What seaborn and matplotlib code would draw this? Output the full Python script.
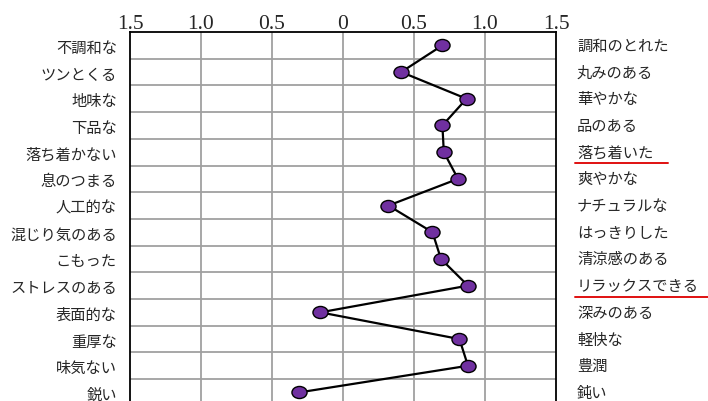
import numpy as np
import pandas as pd
import matplotlib
matplotlib.use("Agg")
import matplotlib.pyplot as plt
import seaborn as sns
from matplotlib.path import Path
from matplotlib.transforms import Affine2D

# semantic differential pairs (left = negative pole, right = positive pole)
left_words = ['不調和な', 'ツンとくる', '地味な', '下品な', '落ち着かない', '息のつまる', '人工的な',
              '混じり気のある', 'こもった', 'ストレスのある', '表面的な', '重厚な', '味気ない', '鋭い']
right_words = ['調和のとれた', '丸みのある', '華やかな', '品のある', '落ち着いた', '爽やかな', 'ナチュラルな',
               'はっきりした', '清涼感のある', 'リラックスできる', '深みのある', '軽快な', '豊潤', '鈍い']
scores = [0.70, 0.41, 0.87, 0.70, 0.71, 0.81, 0.32, 0.63, 0.69, 0.88, -0.16, 0.82, 0.88, -0.31]
tick_values = [-1.5, -1.0, -0.5, 0, 0.5, 1.0, 1.5]
tick_labels = ['1.5', '1.0', '0.5', '0', '0.5', '1.0', '1.5']
underlined = ['落ち着いた', 'リラックスできる']

df = pd.DataFrame({'score': scores, 'row': np.arange(len(scores)) + 0.5})

sns.set_style('white')
plt.rcParams['font.family'] = ['Noto Sans CJK JP', 'DejaVu Sans']

fig = plt.figure(figsize=(7.08, 4.02), dpi=100)
H = 402.0
ax = fig.add_axes([130 / 708, (H - 406.8) / H, 426 / 708, 373.8 / H])

sns.lineplot(data=df, x='score', y='row', sort=False, estimator=None, color='black',
             linewidth=1.6, ax=ax, zorder=3)

# slightly wide ellipse marker
ellipse = Path.unit_circle().transformed(Affine2D().scale(1.25, 1.0))
sns.scatterplot(data=df, x='score', y='row', marker=ellipse, s=118, color='#7030A0',
                edgecolor='black', linewidth=1.0, ax=ax, zorder=4)

ax.set_xlim(-1.5, 1.5)
ax.set_ylim(len(scores), 0)
ax.set_xlabel('')
ax.set_ylabel('')

ax.xaxis.tick_top()
ax.set_xticks(tick_values)
ax.set_xticklabels(tick_labels, fontsize=15.5, family='Liberation Serif')
ax.tick_params(axis='x', length=0, pad=-1)

ax.set_yticks(df['row'])
ax.set_yticklabels(left_words, fontsize=11)
ax.tick_params(axis='y', length=0, pad=9.5)

# grid lines on row boundaries and every 0.5
for k in range(1, len(scores)):
    ax.axhline(k, color='#a0a0a0', linewidth=1.3, zorder=1)
for v in tick_values[1:-1]:
    ax.axvline(v, color='#a0a0a0', linewidth=1.3, zorder=1)

for s in ax.spines.values():
    s.set_color('black')
    s.set_linewidth(1.3)

tr = ax.get_yaxis_transform()
x_right = 1 + 21 / 426
for r, w in zip(df['row'], right_words):
    ax.text(x_right, r, w, fontsize=11, ha='left', va='center', transform=tr, clip_on=False)
    if w in underlined:
        n = len(w)
        x_end = min(x_right + (n * 15.0 + 16) / 426, 1 + 152 / 426)
        ax.plot([x_right - 2 / 426, x_end], [r + 0.42, r + 0.42], color='#e01010',
                linewidth=1.4, transform=tr, clip_on=False)

fig.savefig('out.png', dpi=100)
